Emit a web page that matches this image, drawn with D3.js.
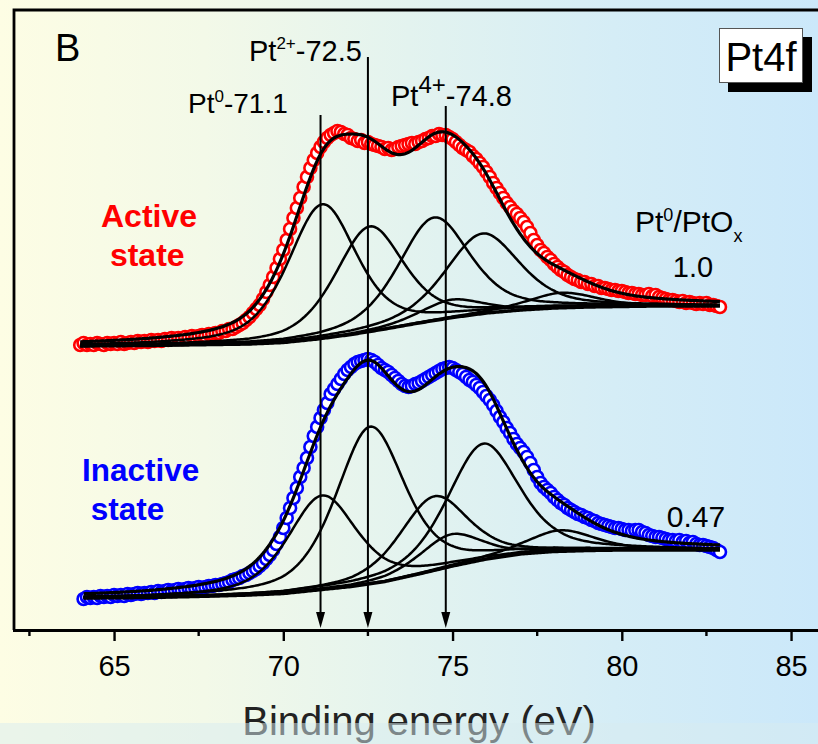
<!DOCTYPE html>
<html><head><meta charset="utf-8">
<script src="https://cdn.jsdelivr.net/npm/d3@7"></script>
<style>
html,body{margin:0;padding:0;background:#fff;}
svg{display:block;}
text{font-family:"Liberation Sans",Arial,Helvetica,sans-serif;}
</style>
</head><body>
<svg id="chart" width="818" height="744"></svg>
<script>
// ---------------- DATA ----------------
// Binding energy grid of the measured spectra (eV)
const energies = [
64.0,64.1,64.2,64.3,64.4,64.5,64.6,64.7,64.8,64.9,
65.0,65.1,65.2,65.3,65.4,65.5,65.6,65.7,65.8,65.9,
66.0,66.1,66.2,66.3,66.4,66.5,66.6,66.7,66.8,66.9,
67.0,67.1,67.2,67.3,67.4,67.5,67.6,67.7,67.8,67.9,
68.0,68.1,68.2,68.3,68.4,68.5,68.6,68.7,68.8,68.9,
69.0,69.1,69.2,69.3,69.4,69.5,69.6,69.7,69.8,69.9,
70.0,70.1,70.2,70.3,70.4,70.5,70.6,70.7,70.8,70.9,
71.0,71.1,71.2,71.3,71.4,71.5,71.6,71.7,71.8,71.9,
72.0,72.1,72.2,72.3,72.4,72.5,72.6,72.7,72.8,72.9,
73.0,73.1,73.2,73.3,73.4,73.5,73.6,73.7,73.8,73.9,
74.0,74.1,74.2,74.3,74.4,74.5,74.6,74.7,74.8,74.9,
75.0,75.1,75.2,75.3,75.4,75.5,75.6,75.7,75.8,75.9,
76.0,76.1,76.2,76.3,76.4,76.5,76.6,76.7,76.8,76.9,
77.0,77.1,77.2,77.3,77.4,77.5,77.6,77.7,77.8,77.9,
78.0,78.1,78.2,78.3,78.4,78.5,78.6,78.7,78.8,78.9,
79.0,79.1,79.2,79.3,79.4,79.5,79.6,79.7,79.8,79.9,
80.0,80.1,80.2,80.3,80.4,80.5,80.6,80.7,80.8,80.9,
81.0,81.1,81.2,81.3,81.4,81.5,81.6,81.7,81.8,81.9,
82.0,82.1,82.2,82.3,82.4,82.5,82.6,82.7,82.8,82.9];

// Active state: measured intensity (a.u., stacked offset included), 64.0 .. 82.9 eV
const activeCounts = [
285,287,285,286,285,287,286,285,287,286,
287,286,288,286,287,288,287,289,288,289,
288,290,289,290,289,291,290,292,291,292,
291,293,292,294,293,294,295,294,296,296,
297,297,299,299,301,301,303,305,307,310,
313,317,321,325,331,338,345,353,362,371,
380,390,401,412,422,432,443,453,462,470,
477,483,488,492,495,497,499,498,496,495,
492,491,489,490,487,488,486,485,484,483,
481,482,480,481,483,484,485,486,487,486,
488,489,491,492,494,494,496,495,495,493,
491,488,485,482,480,478,474,471,467,463,
458,453,447,442,437,432,427,423,419,416,
412,408,403,397,390,385,380,377,373,370,
366,363,360,358,355,353,351,350,348,348,
346,346,344,344,342,342,341,340,340,339,
339,338,337,337,336,336,335,335,336,334,
335,333,332,331,330,330,329,328,329,327,
328,327,326,327,326,327,325,325,324,323];

// Inactive state: measured intensity, 64.1 .. 82.9 eV
const inactiveCounts = [
31,33,32,33,32,34,33,34,33,
35,34,35,34,36,35,36,37,36,37,
37,38,37,39,38,39,40,39,40,41,
40,41,42,41,42,43,42,43,44,44,
45,45,46,47,48,50,51,52,54,55,
57,59,61,64,67,71,75,80,86,93,
102,112,122,132,142,153,162,172,183,194,
203,212,220,227,236,241,246,251,256,260,
263,266,268,269,270,271,270,268,265,262,
260,258,255,252,249,246,244,243,244,246,
247,249,251,253,255,257,259,261,262,263,
262,260,258,256,253,250,248,245,242,238,
234,230,225,219,213,208,202,197,191,186,
182,178,173,167,160,153,147,143,140,137,
133,130,127,125,122,120,118,116,115,113,
112,110,109,107,106,105,104,103,102,102,
101,100,100,99,100,100,98,97,95,94,
93,93,92,91,90,90,89,90,88,89,
87,88,86,85,85,84,83,82,80,78];

// Shirley-type background
const bgEnergies = [64,65,66,67,68,69,70,71,72,73,74,75,76,77,78,79,80,81,82,83];
const activeBackground   = [284,284.3,284.5,285,285.5,286,287.5,291,295.5,301,307,312.5,317,320,322,323,323.5,324,324,324];
const inactiveBackground = [32,32.2,32.5,33.2,34,35,36.5,40,43.5,48.5,56,64,71,76,78.5,79.5,80,80,80,80];

// Fitted components (Pt0 4f7/2, Pt2+ 4f7/2, Pt4+ 4f7/2, Pt0 4f5/2, Pt2+ 4f5/2, Pt4+ 4f5/2)
const componentNames   = ["Pt0 4f7/2","Pt2+ 4f7/2","Pt4+ 4f7/2","Pt0 4f5/2","Pt2+ 4f5/2","Pt4+ 4f5/2"];
const activeCenters    = [71.15, 72.55, 74.95, 74.45, 75.88, 78.25];
const activeHeights    = [134, 105, 18, 103, 80, 15];
const activeFwhm       = [2.4, 2.4, 2.2, 2.5, 2.6, 2.4];
const inactiveCenters  = [71.15, 72.57, 74.95, 74.45, 75.90, 78.20];
const inactiveHeights  = [94, 157, 32, 74, 116, 21];
const inactiveFwhm     = [2.4, 2.4, 2.2, 2.4, 2.5, 2.4];
const lorentzFraction  = 0.5;

// Axis ticks and annotations
const xTicks = [65, 70, 75, 80, 85];
const xMinorTicks = [62.5, 67.5, 72.5, 77.5, 82.5, 87.5];
const arrowEnergies = [71.1, 72.5, 74.8];
const ratioValues = ["1.0", "0.47"];

// ---------------- DRAWING ----------------
const W = 818, H = 744;
const svg = d3.select("#chart");
const x = d3.scaleLinear().domain([62, 88]).range([12.5, 12.5 + 26 * 33.85]);
const y = d3.scaleLinear().domain([0, 620]).range([630, 10]);

const defs = svg.append("defs");
const grad = defs.append("linearGradient").attr("id", "bgGrad").attr("x1", 0).attr("x2", 1).attr("y1", 0).attr("y2", 0);
[[0, "#fdfde4"], [0.25, "#f3f9e8"], [0.5, "#e3f3ef"], [0.75, "#d5edf6"], [1, "#cbe8fa"]]
  .forEach(([o, c]) => grad.append("stop").attr("offset", o).attr("stop-color", c));
svg.append("rect").attr("width", W).attr("height", H).attr("fill", "url(#bgGrad)");

function pv(E, c, h, w) {
  const t = (E - c) / w;
  return h * (lorentzFraction / (1 + 4 * t * t) + (1 - lorentzFraction) * Math.exp(-4 * Math.LN2 * t * t));
}

const line = d3.line().x(d => x(d[0])).y(d => y(d[1]));

function drawSpectrum(eStart, counts, bgVals, centers, heights, fwhm, color) {
  const es = energies.slice(energies.indexOf(eStart));
  const pts = counts.map((v, i) => [es[i], v]);
  const bg = d3.scaleLinear().domain(bgEnergies).range(bgVals).clamp(true);
  const grid = d3.range(Math.round(eStart * 20), Math.round(es[es.length - 1] * 20) + 1).map(k => k / 20);

  const g = svg.append("g");
  g.selectAll("circle").data(pts).join("circle")
    .attr("cx", d => x(d[0])).attr("cy", d => y(d[1])).attr("r", 6)
    .attr("fill", "#fff").attr("stroke", color).attr("stroke-width", 2.6);

  // background
  g.append("path").datum(grid.map(E => [E, bg(E)]))
    .attr("d", line).attr("fill", "none").attr("stroke", "#000").attr("stroke-width", 3.5);
  // components
  centers.forEach((c, k) => {
    g.append("path").datum(grid.map(E => [E, bg(E) + pv(E, c, heights[k], fwhm[k])]))
      .attr("d", line).attr("fill", "none").attr("stroke", "#000").attr("stroke-width", 2.5);
  });
  // envelope
  g.append("path").datum(grid.map(E => [E, bg(E) + d3.sum(centers, (c, k) => pv(E, c, heights[k], fwhm[k]))]))
    .attr("d", line).attr("fill", "none").attr("stroke", "#000").attr("stroke-width", 3.2);
}

drawSpectrum(64.0, activeCounts, activeBackground, activeCenters, activeHeights, activeFwhm, "#ff0000");
drawSpectrum(64.1, inactiveCounts, inactiveBackground, inactiveCenters, inactiveHeights, inactiveFwhm, "#0000ff");

// frame (top + left)
svg.append("path").attr("d", `M${W},10 H${x(62) + 1.5} V630`)
  .attr("fill", "none").attr("stroke", "#000").attr("stroke-width", 2.8);

// x axis
const axis = svg.append("g").attr("transform", "translate(0,630)")
  .call(d3.axisBottom(x).tickValues(xTicks).tickSize(11).tickSizeOuter(0).tickFormat(d3.format("d")));
axis.select(".domain").attr("stroke", "#000").attr("stroke-width", 3.2);
axis.selectAll(".tick line").attr("stroke", "#000").attr("stroke-width", 2.4);
axis.selectAll(".tick text").attr("y", 46).attr("dy", 0)
  .attr("font-size", 29).attr("font-family", "'Liberation Sans', Arial, sans-serif").attr("fill", "#000");
axis.selectAll(".minor").data(xMinorTicks).join("line").attr("class", "minor")
  .attr("x1", d => x(d)).attr("x2", d => x(d)).attr("y1", 0).attr("y2", 6)
  .attr("stroke", "#000").attr("stroke-width", 2.4);

// arrows
const arrowTops = [115, 57, 106];
arrowEnergies.forEach((e, i) => {
  const ax = x(e);
  svg.append("line").attr("x1", ax).attr("x2", ax).attr("y1", arrowTops[i]).attr("y2", 615)
    .attr("stroke", "#000").attr("stroke-width", 2);
  svg.append("path").attr("d", `M${ax - 4.5},612 L${ax + 4.5},612 L${ax},628 Z`).attr("fill", "#000");
});

// text annotations
function rich(xp, yp, parts, size) {
  const t = svg.append("text").attr("x", xp).attr("y", yp).attr("font-size", size).attr("fill", "#000");
  parts.forEach(p => {
    t.append("tspan").attr("font-size", p.s || size).attr("dy", p.dy || 0).text(p.t);
  });
  return t;
}
svg.append("text").attr("x", 55).attr("y", 61).attr("font-size", 38).text("B");
rich(188, 113, [{t: "Pt"}, {t: "0", s: 17, dy: -11}, {t: "-71.1", dy: 11}], 28);
rich(249, 61, [{t: "Pt"}, {t: "2+", s: 17, dy: -12}, {t: "-72.5", dy: 12}], 29);
rich(391, 106, [{t: "Pt"}, {t: "4+", s: 24, dy: -13}, {t: "-74.8", dy: 13}], 29);

// Pt4f box
svg.append("rect").attr("x", 728).attr("y", 37).attr("width", 84).attr("height", 55).attr("fill", "#000");
svg.append("rect").attr("x", 719.5).attr("y", 28.5).attr("width", 83).attr("height", 54)
  .attr("fill", "#fff").attr("stroke", "#555").attr("stroke-width", 1);
svg.append("text").attr("x", 761).attr("y", 71).attr("text-anchor", "middle").attr("font-size", 40).text("Pt4f");

// state labels
const act = svg.append("text").attr("x", 101).attr("y", 227).attr("font-size", 32)
  .attr("font-weight", "bold").attr("fill", "#ff0000");
act.append("tspan").attr("x", 101).text("Active");
act.append("tspan").attr("x", 101).attr("dy", 38.5).text("\u00a0state");
const inact = svg.append("text").attr("x", 82).attr("y", 481).attr("font-size", 31.5)
  .attr("font-weight", "bold").attr("fill", "#0000ff");
inact.append("tspan").attr("x", 82).text("Inactive");
inact.append("tspan").attr("x", 82).attr("dy", 38.5).text("\u00a0state");

// ratio labels
rich(635, 232, [{t: "Pt"}, {t: "0", s: 18, dy: -11}, {t: "/PtO", dy: 11}, {t: "x", s: 18, dy: 10}], 30);
svg.append("text").attr("x", 693).attr("y", 277).attr("text-anchor", "middle").attr("font-size", 29).text(ratioValues[0]);
svg.append("text").attr("x", 696).attr("y", 527).attr("text-anchor", "middle").attr("font-size", 30).text(ratioValues[1]);

// axis title
svg.append("text").attr("x", 419).attr("y", 735).attr("text-anchor", "middle").attr("font-size", 40)
  .attr("fill", "#222").text("Binding energy (eV)");
// bottom band overlay
svg.append("rect").attr("x", 0).attr("y", 723).attr("width", W).attr("height", H - 723)
  .attr("fill", "#d8ecf0").attr("opacity", 0.5);
</script>
</body></html>
